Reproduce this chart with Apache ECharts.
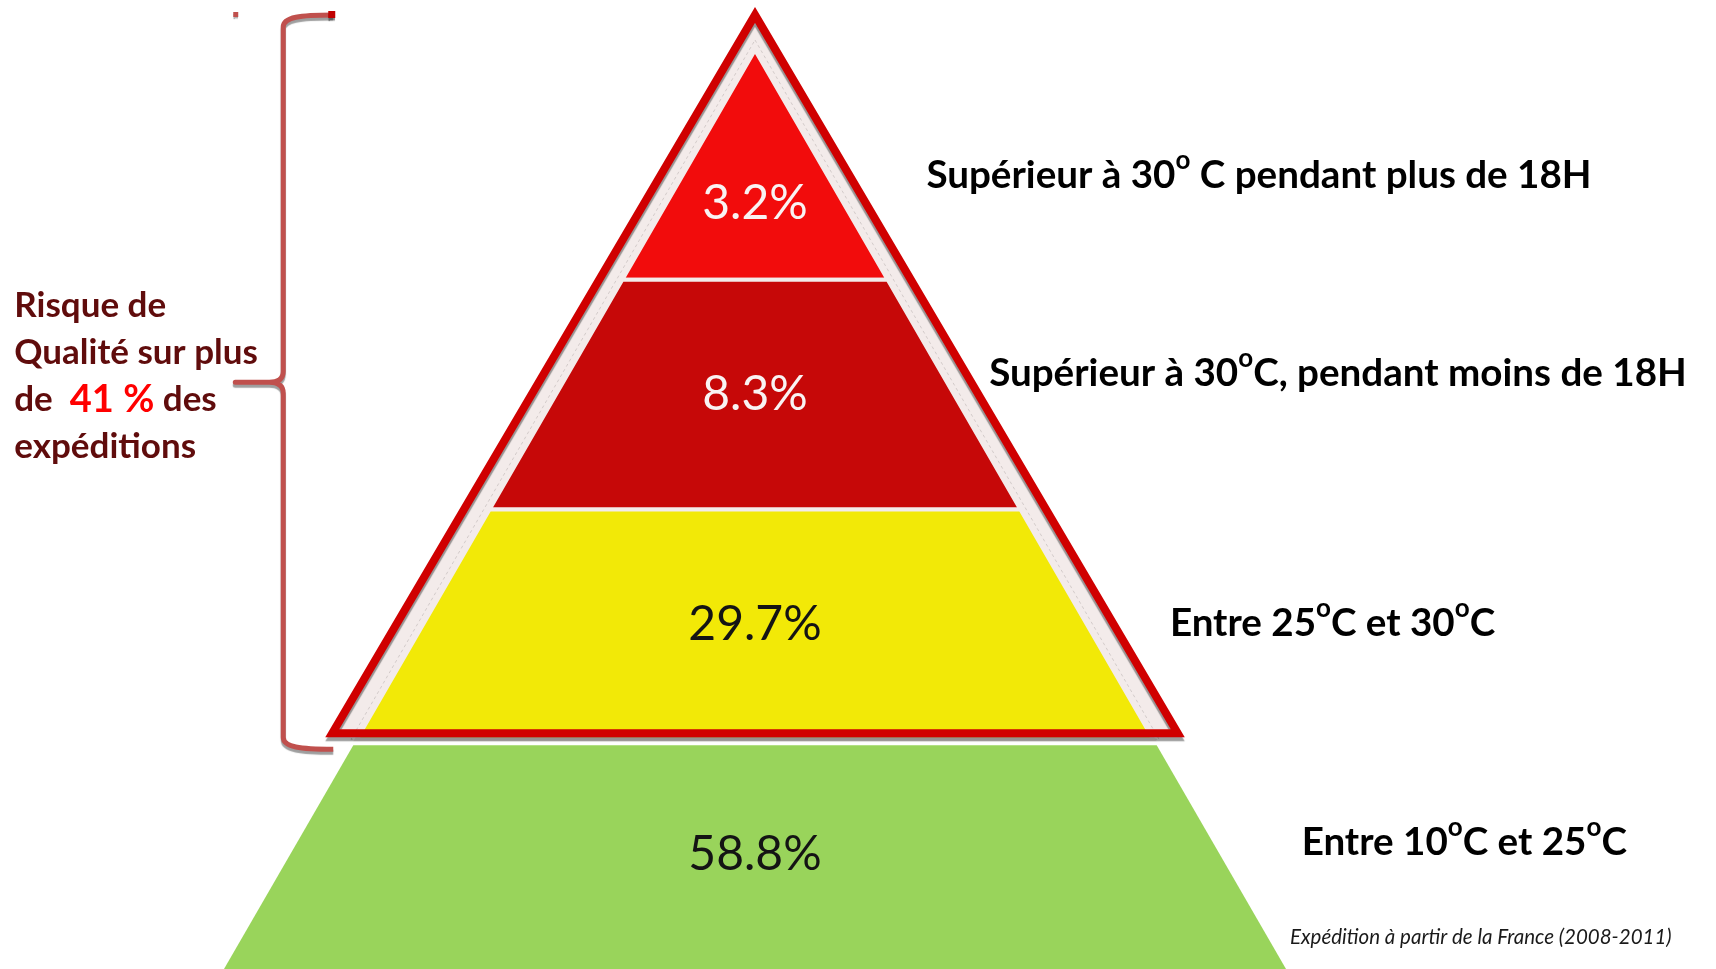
<!DOCTYPE html>
<html>
<head>
<meta charset="utf-8">
<script src="https://cdn.jsdelivr.net/npm/echarts@6/dist/echarts.min.js"></script>
<style>
  html, body { margin: 0; padding: 0; background: #ffffff; }
  #chart { width: 1716px; height: 969px; }
</style>
</head>
<body>
<div id="chart"></div>
<script>
// ---------------- data ----------------
const levelNames = [
  'Supérieur à 30º C pendant plus de 18H',
  'Supérieur à 30ºC, pendant moins de 18H',
  'Entre 25ºC et 30ºC',
  'Entre 10ºC et 25ºC'
];
const levelShares = [3.2, 8.3, 29.7, 58.8];
const riskGroup = [0, 3]; // the bracket covers the first three levels
const riskNote = 'Risque de\nQualité sur plus\nde  {hl|41 %} des\nexpéditions';
const sourceNote = 'Expédition à partir de la France (2008-2011)';

// ---------------- styles / layout ----------------
const levelColors = ['#f20c0c', '#c60808', '#f2e907', '#99d45b'];
const shareColors = ['#f9f3f3', '#f9f3f3', '#141414', '#141414'];
const L = {
  font: 'Lato',
  sepColor: '#f3ebea', sepWidth: 4,
  greenGap: 6,
  labelDx: [105, 35, 83, 82],
  labelDy: [11, -21, -1, -12],
  labelSize: 38.6, supSize: 26, supRaise: 30,
  frameApexGap: 43, frameCornerGap: 31.5, frameBaseDy: -2,
  frameRed: '#d00000', frameWidth: 8, lightBand: '#f3ebea',
  braceColor: '#c0504d', braceTopDy: 8, braceBotDy: 12,
  braceLineDx: -42, braceTipDx: -90, braceEndDx: 8
};

const nLevels = levelNames.length;
const halfW = y => y / nLevels;
const supText = s => s.replace(/º/g, '{sup|o}');

function offsetPoly(pts, offs) {
  const n = pts.length, lines = [];
  for (let k = 0; k < n; k++) {
    const p = pts[k], q = pts[(k + 1) % n];
    let dx = q[0] - p[0], dy = q[1] - p[1];
    const len = Math.hypot(dx, dy); dx /= len; dy /= len;
    const o = offs[k];
    lines.push({ px: p[0] + dy * o, py: p[1] - dx * o, dx, dy });
  }
  const out = [];
  for (let k = 0; k < n; k++) {
    const a = lines[(k - 1 + n) % n], b = lines[k];
    const cr = a.dx * b.dy - a.dy * b.dx;
    const t = ((b.px - a.px) * b.dy - (b.py - a.py) * b.dx) / cr;
    out.push([a.px + a.dx * t, a.py + a.dy * t]);
  }
  return out;
}

function textStyle(o) {
  const s = Object.assign({}, o);
  s.textAlign = s.align; s.textVerticalAlign = s.verticalAlign;
  return s;
}

function renderLevel(params, api) {
  const i = api.value(0);
  const share = api.value(1);
  const ppl = api.size([0, 1])[1];
  const afterGroup = i === riskGroup[1];
  const y0 = i + (afterGroup ? L.greenGap / ppl : 0);
  const y1 = i + 1;
  const P = (x, y) => api.coord([x, y]);
  const pts = [P(-halfW(y0), y0), P(halfW(y0), y0), P(halfW(y1), y1), P(-halfW(y1), y1)];
  const inGroup = i >= riskGroup[0] && i < riskGroup[1];
  const ly = i === 0 ? 2 / 3 : i + 0.5;
  const c = P(0, ly);
  const mid = i + 0.5;
  const edge = P(halfW(mid), mid);
  return {
    type: 'group',
    children: [
      { type: 'polygon', shape: { points: pts },
        style: { fill: levelColors[i], stroke: inGroup ? L.sepColor : null, lineWidth: inGroup ? L.sepWidth : 0 } },
      { type: 'text', z2: 10,
        style: textStyle({ x: c[0], y: c[1], text: share.toFixed(1) + '%', fill: shareColors[i],
          fontFamily: L.font, fontSize: 48, fontWeight: 'normal', align: 'center', verticalAlign: 'middle' }) },
      { type: 'text', z2: 10,
        style: textStyle({ x: edge[0] + L.labelDx[i], y: edge[1] + L.labelDy[i], text: supText(levelNames[i]),
          fill: '#000000', fontFamily: L.font, fontSize: L.labelSize, fontWeight: 'bold', align: 'left', verticalAlign: 'middle',
          rich: { sup: { fontFamily: L.font, fontSize: L.supSize, fontWeight: 'bold', fill: '#000000', padding: [0, 0, L.supRaise, 0] } } }) }
    ]
  };
}

function frameOuter(api, a, b) {
  const A = api.coord([0, a]);
  const BR = api.coord([halfW(b), b]);
  const BL = api.coord([-halfW(b), b]);
  return [
    [A[0], A[1] - L.frameApexGap],
    [BR[0] + L.frameCornerGap, BR[1] + L.frameBaseDy],
    [BL[0] - L.frameCornerGap, BL[1] + L.frameBaseDy]
  ];
}

function renderFrameBack(params, api) {
  const a = api.value(0), b = api.value(1);
  const outer = frameOuter(api, a, b);
  const inner = [api.coord([0, a]), api.coord([halfW(b), b]), api.coord([-halfW(b), b])];
  const dashed = offsetPoly(inner, [5, 0, 5]);
  return {
    type: 'group',
    children: [
      { type: 'polygon', shape: { points: outer }, style: { fill: L.lightBand } },
      { type: 'polygon', shape: { points: dashed }, style: { fill: null, stroke: '#d3cbca', lineWidth: 1, lineDash: [3, 3] } }
    ]
  };
}

function renderFrameFront(params, api) {
  const a = api.value(0), b = api.value(1);
  const outer = frameOuter(api, a, b);
  const h = L.frameWidth / 2;
  const redPath = offsetPoly(outer, [-h, -h, -h]);
  const Ao = outer[0], BLo = outer[2];
  const top = Ao[1] + L.braceTopDy;
  const bot = BLo[1] + L.braceBotDy;
  const xv = BLo[0] + L.braceLineDx;
  const xt = BLo[0] + L.braceTipDx;
  const xe = BLo[0] + L.braceEndDx;
  const ym = (top + bot) / 2;
  const r = 11;
  const path =
    'M' + xe + ',' + top +
    ' C' + (xv + 17) + ',' + top + ' ' + xv + ',' + (top + 2) + ' ' + xv + ',' + (top + 12) +
    ' L' + xv + ',' + (ym - r) +
    ' Q' + xv + ',' + ym + ' ' + (xv - 14) + ',' + ym +
    ' L' + xt + ',' + ym +
    ' L' + (xv - 14) + ',' + ym +
    ' Q' + xv + ',' + ym + ' ' + xv + ',' + (ym + r) +
    ' L' + xv + ',' + (bot - 12) +
    ' C' + xv + ',' + (bot - 2) + ' ' + (xv + 17) + ',' + bot + ' ' + xe + ',' + bot;
  return {
    type: 'group',
    children: [
      { type: 'polygon', shape: { points: redPath },
        style: { fill: null, stroke: L.frameRed, lineWidth: L.frameWidth, lineJoin: 'miter',
          shadowColor: 'rgba(0,0,0,0.38)', shadowBlur: 1, shadowOffsetY: 4 } },
      { type: 'path', shape: { pathData: path },
        style: { fill: null, stroke: L.braceColor, lineWidth: 5, lineJoin: 'round',
          shadowColor: 'rgba(0,0,0,0.38)', shadowBlur: 1, shadowOffsetY: 3 } },
      { type: 'rect', shape: { x: xe - 5, y: top - 4, width: 7, height: 7 },
        style: { fill: '#c00000', shadowColor: 'rgba(0,0,0,0.4)', shadowBlur: 1, shadowOffsetY: 3 } },
      { type: 'rect', shape: { x: xt - 2, y: top - 3, width: 5, height: 5 },
        style: { fill: L.braceColor, shadowColor: 'rgba(0,0,0,0.3)', shadowBlur: 1, shadowOffsetY: 2 } },
      { type: 'text',
        style: textStyle({ x: xt - 221, y: ym - 6, text: riskNote, fill: '#600c0c', fontFamily: L.font,
          fontSize: 35, fontWeight: 'bold', lineHeight: 47, align: 'left', verticalAlign: 'middle',
          rich: { hl: { fontFamily: L.font, fontSize: 38, fontWeight: 'bold', fill: '#ff0000', lineHeight: 47 } } }) }
    ]
  };
}

const chart = echarts.init(document.getElementById('chart'), null, { renderer: 'canvas' });
chart.setOption({
  backgroundColor: '#ffffff',
  animation: false,
  grid: { left: 224, top: 50, width: 1062, height: 920, containLabel: false },
  xAxis: { type: 'value', min: -1, max: 1, show: false },
  yAxis: { type: 'value', min: 0, max: nLevels, inverse: true, show: false },
  graphic: [
    { type: 'text', left: 1290, top: 927,
      style: { text: sourceNote, fill: '#1a1a1a', font: 'italic 20.5px Lato' } }
  ],
  series: [
    { type: 'custom', name: 'frameBack', coordinateSystem: 'cartesian2d', data: [riskGroup],
      renderItem: renderFrameBack, z: 1, silent: true, clip: false },
    { type: 'custom', name: 'levels', coordinateSystem: 'cartesian2d',
      data: levelShares.map((v, i) => [i, v]),
      renderItem: renderLevel, z: 2, silent: true, clip: false },
    { type: 'custom', name: 'frameFront', coordinateSystem: 'cartesian2d', data: [riskGroup],
      renderItem: renderFrameFront, z: 3, silent: true, clip: false }
  ]
});
</script>
</body>
</html>
